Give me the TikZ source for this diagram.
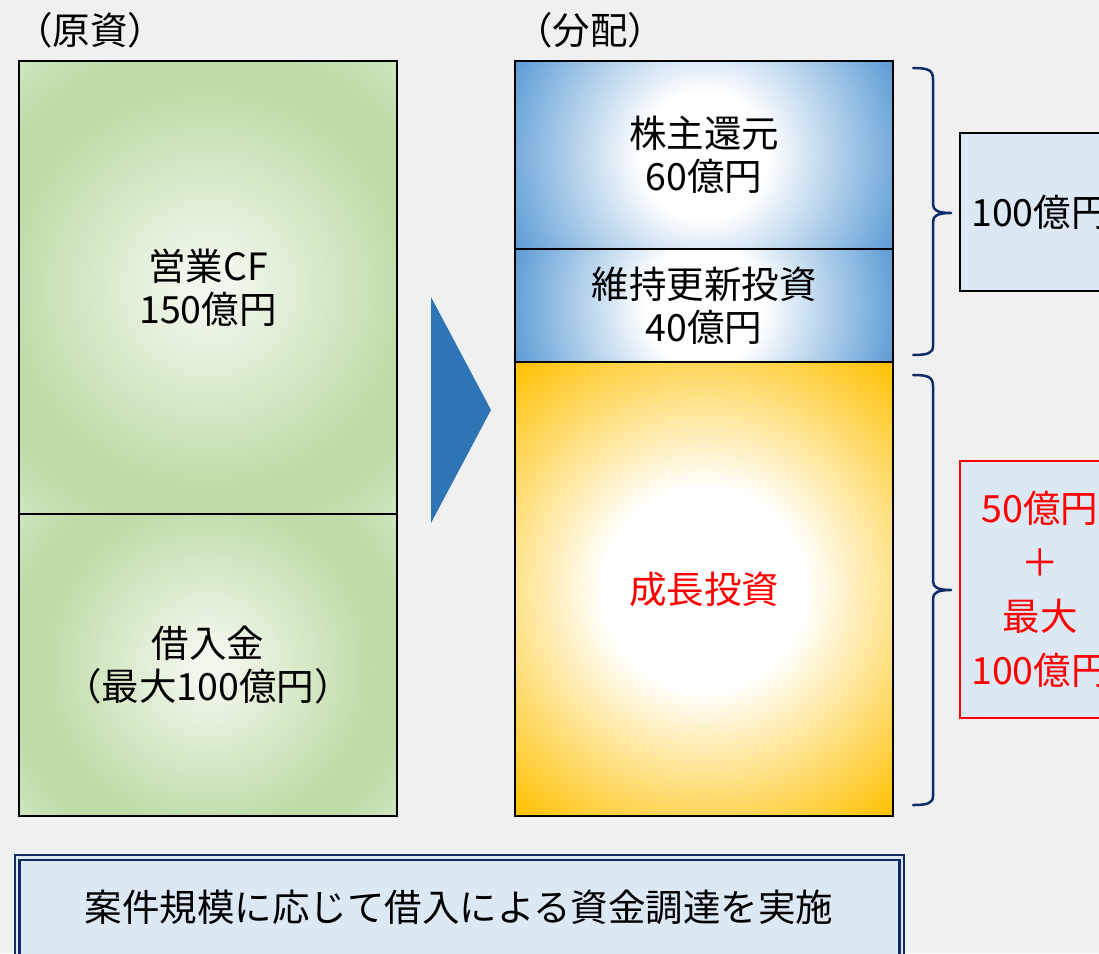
\documentclass[tikz,border=0pt]{standalone}
\usepackage{fontspec}
\setmainfont{Noto Sans CJK JP}
\definecolor{bg}{RGB}{240,240,240}
\definecolor{gIn}{RGB}{240,247,236}
\definecolor{gOut}{RGB}{191,220,167}
\definecolor{gCorner}{RGB}{206,229,192}
\definecolor{bEdge}{RGB}{91,155,213}
\definecolor{yEdge}{RGB}{255,192,0}
\definecolor{navy}{RGB}{16,44,104}
\definecolor{lightbox}{RGB}{221,232,245}
\definecolor{arrowblue}{RGB}{46,117,182}
\definecolor{redtxt}{RGB}{255,0,0}
% path bounding box maps to the central 50bp square: radius 25bp = corner circle
\pgfdeclareradialshading{greenglow}{\pgfpointorigin}{color(0bp)=(gIn); color(2bp)=(gIn); color(17bp)=(gOut); color(20.5bp)=(gOut); color(25bp)=(gCorner); color(50bp)=(gCorner)}
\pgfdeclareradialshading{blueglow}{\pgfpointorigin}{color(0bp)=(white); color(7.5bp)=(white); color(25bp)=(bEdge); color(50bp)=(bEdge)}
\pgfdeclareradialshading{yellowglow}{\pgfpointorigin}{color(0bp)=(white); color(8.5bp)=(white); color(25bp)=(yEdge); color(50bp)=(yEdge)}
\newcommand\glowrect[5]{%
  \begin{scope}
    \clip (#1,#2) rectangle (#3,#4);
    \shade[shading=#5] ({((#1)+(#3))/2},{((#2)+(#4))/2}) circle ({sqrt((((#3)-(#1))/10)^2+(((#4)-(#2))/10)^2)*5pt});
  \end{scope}}
\tikzset{
  frame/.style={draw=black, line width=2pt, inner sep=0pt},
  lbl/.style={align=center, font=\fontsize{37.5}{43}\selectfont, text=black},
  bracestyle/.style={draw=navy, line width=2.5pt, line cap=round, line join=round},
}
\begin{document}
\begin{tikzpicture}[x=1pt, y=-1pt]
\useasboundingbox (0,0) rectangle (1099,953);
\clip (0,0) rectangle (1099,953);
\fill[bg] (0,0) rectangle (1099,953);

% headings
\node[lbl] (hsrc) at (90,30) {（原資）};
\node[lbl] (hdst) at (590,30) {（分配）};

% left column shading
\glowrect{19}{61}{397}{514}{greenglow}
\glowrect{19}{514}{397}{816}{greenglow}
% right column shading
\glowrect{515}{61}{893}{249}{blueglow}
\glowrect{515}{249}{893}{362}{blueglow}
\glowrect{515}{362}{893}{816}{yellowglow}

% boxes
\node[frame, lbl, minimum width=378pt, minimum height=453pt] (cf) at (208,287.5) {営業CF\\150億円};
\node[frame, lbl, minimum width=378pt, minimum height=302pt] (loan) at (208,665) {借入金\\（最大100億円）};
\node[frame, lbl, minimum width=378pt, minimum height=188pt] (ret) at (704,155) {株主還元\\60億円};
\node[frame, lbl, minimum width=378pt, minimum height=113pt] (keep) at (704,305.5) {維持更新投資\\40億円};
\node[frame, lbl, text=redtxt, minimum width=378pt, minimum height=454pt] (grow) at (704,589) {成長投資};

% arrow
\fill[arrowblue] (431,297) -- (491,410) -- (431,523) -- cycle;

% braces
\draw[bracestyle] (913,68) .. controls (928,68) and (933,70) .. (933,79) -- (933,204)
  .. controls (933,210) and (937,213) .. (951,213)
  .. controls (937,213) and (933,216) .. (933,222) -- (933,346)
  .. controls (933,353) and (928,355) .. (913,355);
\draw[bracestyle] (913,375) .. controls (928,375) and (933,377) .. (933,386) -- (933,581)
  .. controls (933,587) and (937,590) .. (951,590)
  .. controls (937,590) and (933,593) .. (933,599) -- (933,796)
  .. controls (933,803) and (928,805) .. (913,805);

% right boxes
\node[draw=black, fill=lightbox, line width=2pt, lbl, minimum width=160pt, minimum height=158pt] (sum1) at (1040,212) {100億円};
\node[draw=redtxt, fill=lightbox, line width=2pt, lbl, text=redtxt, font=\fontsize{37.5}{54}\selectfont, minimum width=160pt, minimum height=257pt] (sum2) at (1040,589.5) {50億円\\＋\\最大\\100億円};

% bottom box
\draw[navy, line width=1.5pt, fill=lightbox] (15,855) rectangle (904,975);
\draw[navy, line width=2.5pt] (19.5,860) rectangle (899.5,975);
\node[lbl] (note) at (459,907) {案件規模に応じて借入による資金調達を実施};
\end{tikzpicture}
\end{document}
